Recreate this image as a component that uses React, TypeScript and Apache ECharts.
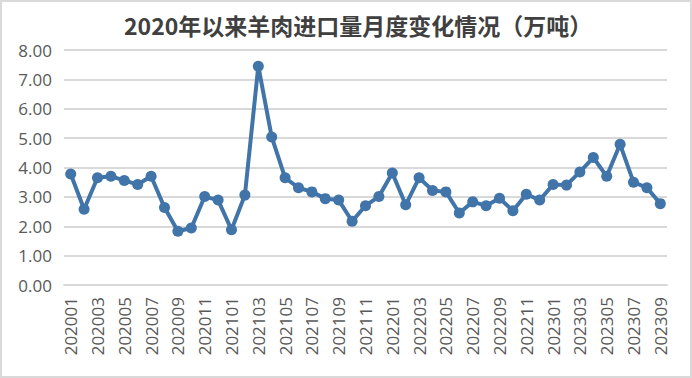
import React, { useEffect, useRef } from "react";
import * as echarts from "echarts";

const months: string[] = [
  "202001","202002","202003","202004","202005","202006","202007","202008","202009","202010","202011","202012",
  "202101","202102","202103","202104","202105","202106","202107","202108","202109","202110","202111","202112",
  "202201","202202","202203","202204","202205","202206","202207","202208","202209","202210","202211","202212",
  "202301","202302","202303","202304","202305","202306","202307","202308","202309",
];

const imports: number[] = [
  3.78, 2.58, 3.65, 3.70, 3.56, 3.42, 3.70, 2.64, 1.83, 1.94, 3.01, 2.89,
  1.88, 3.06, 7.45, 5.04, 3.65, 3.31, 3.17, 2.94, 2.89, 2.17, 2.70, 3.01,
  3.81, 2.73, 3.65, 3.22, 3.17, 2.45, 2.83, 2.70, 2.95, 2.53, 3.09, 2.89,
  3.42, 3.40, 3.85, 4.34, 3.70, 4.79, 3.50, 3.31, 2.77,
];

const titleText = "2020年以来羊肉进口量月度变化情况（万吨）";

export default function App() {
  const ref = useRef<HTMLDivElement>(null);
  useEffect(() => {
    document.body.style.margin = "0";
    const chart = echarts.init(ref.current!, null, { renderer: "svg" });
    chart.setOption({
      animation: false,
      backgroundColor: "#ffffff",
      title: {
        text: titleText,
        left: 117,
        top: 6,
        textStyle: {
          fontFamily: "Noto Sans CJK SC",
          fontSize: 23,
          fontWeight: "bold",
          color: "#404040",
        },
      },
      grid: { left: 62, right: 23, top: 48, bottom: 91 },
      xAxis: {
        type: "category",
        data: months,
        boundaryGap: true,
        axisLine: { show: true, lineStyle: { color: "#d9d9d9", width: 2 } },
        axisTick: { show: false },
        axisLabel: {
          interval: 1,
          rotate: 90,
          margin: 12,
          color: "#595959",
          fontSize: 17,
          fontFamily: "Open Sans",
        },
      },
      yAxis: {
        type: "value",
        min: 0,
        max: 8,
        interval: 1,
        axisLine: { show: false },
        axisTick: { show: false },
        splitLine: { lineStyle: { color: "#d9d9d9", width: 2 } },
        axisLabel: {
          formatter: (v: number) => v.toFixed(2),
          color: "#595959",
          fontSize: 17,
          fontFamily: "Open Sans",
          margin: 12,
        },
      },
      series: [
        {
          type: "line",
          data: imports,
          symbol: "circle",
          symbolSize: 11,
          showAllSymbol: true,
          lineStyle: { color: "#4174a9", width: 4 },
          itemStyle: { color: "#4174a9" },
        },
      ],
    });
    return () => chart.dispose();
  }, []);
  return (
    <div
      style={{
        position: "absolute",
        left: 0,
        top: 0,
        width: 692,
        height: 378,
        boxSizing: "border-box",
        border: "2px solid #d9d9d9",
        background: "#fff",
      }}
    >
      <div ref={ref} style={{ width: 688, height: 374 }} />
    </div>
  );
}
